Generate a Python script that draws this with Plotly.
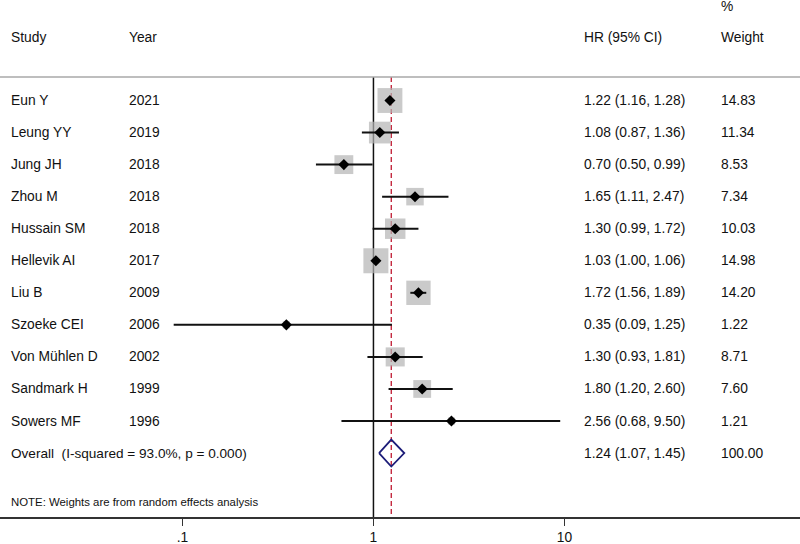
import math
import plotly.graph_objects as go

studies = ["Eun Y", "Leung YY", "Jung JH", "Zhou M", "Hussain SM", "Hellevik AI",
           "Liu B", "Szoeke CEI", "Von Mühlen D", "Sandmark H", "Sowers MF"]
years = ["2021", "2019", "2018", "2018", "2018", "2017", "2009", "2006", "2002", "1999", "1996"]
hr = [1.22, 1.08, 0.70, 1.65, 1.30, 1.03, 1.72, 0.35, 1.30, 1.80, 2.56]
lo = [1.16, 0.87, 0.50, 1.11, 0.99, 1.00, 1.56, 0.09, 0.93, 1.20, 0.68]
hi = [1.28, 1.36, 0.99, 2.47, 1.72, 1.06, 1.89, 1.25, 1.81, 2.60, 9.50]
weights = [14.83, 11.34, 8.53, 7.34, 10.03, 14.98, 14.20, 1.22, 8.71, 7.60, 1.21]

overall_label = "Overall  (I-squared = 93.0%, p = 0.000)"
overall_hr, overall_lo, overall_hi, overall_w = 1.24, 1.07, 1.45, 100.00
note = "NOTE: Weights are from random effects analysis"
tick_vals = [0.1, 1, 10]
tick_text = [".1", "1", "10"]

FONT = "Liberation Sans, Arial, sans-serif"
n = len(studies)
rows = list(range(n))
orow = n

Y_TOP, Y_BOT = -3.136, 12.995
SEP = -0.733

fig = go.Figure()

# dashed overall line
fig.add_trace(go.Scatter(x=[overall_hr, overall_hr], y=[SEP, Y_BOT], mode="lines",
                         line=dict(color="#c42a40", width=1.4, dash="5px,3px"),
                         hoverinfo="skip", showlegend=False))
# null line
fig.add_trace(go.Scatter(x=[1, 1], y=[SEP, Y_BOT], mode="lines",
                         line=dict(color="#111111", width=1.5),
                         hoverinfo="skip", showlegend=False))

# weight boxes
sizes = [25 * math.sqrt(w / 14.98) for w in weights]
fig.add_trace(go.Scatter(x=hr, y=rows, mode="markers",
                         marker=dict(symbol="square", size=sizes, color="#b4b4b4",
                                     line=dict(width=0)),
                         hoverinfo="skip", showlegend=False))
# CI lines
for i in range(n):
    fig.add_trace(go.Scatter(x=[lo[i], hi[i]], y=[i, i], mode="lines",
                             line=dict(color="#111111", width=2),
                             hoverinfo="skip", showlegend=False))
# point estimates
fig.add_trace(go.Scatter(x=hr, y=rows, mode="markers",
                         marker=dict(symbol="diamond", size=8.5, color="#000000"),
                         hoverinfo="skip", showlegend=False))
# overall diamond
h = 0.42
fig.add_trace(go.Scatter(x=[overall_lo, overall_hr, overall_hi, overall_hr, overall_lo],
                         y=[orow, orow - h, orow, orow + h, orow], mode="lines",
                         line=dict(color="#1c1c78", width=1.8),
                         hoverinfo="skip", showlegend=False))

def txt(x, y, s, size=13.8, anchor="left"):
    fig.add_annotation(x=x, y=y, xref="paper", yref="y", text=s, showarrow=False,
                       xanchor=anchor, yanchor="middle", borderpad=0,
                       font=dict(family=FONT, size=size, color="#111111"))

# headers
txt(10 / 800, -1.98, "Study")
txt(128 / 800, -1.98, "Year")
txt(583 / 800, -1.98, "HR (95% CI)")
txt(720 / 800, -1.98, "Weight")
txt(720 / 800, -2.92, "%")

for i in range(n):
    txt(10 / 800, i, studies[i])
    txt(128 / 800, i, years[i])
    txt(583 / 800, i, f"{hr[i]:.2f} ({lo[i]:.2f}, {hi[i]:.2f})")
    txt(720 / 800, i, f"{weights[i]:.2f}")

txt(10 / 800, orow, overall_label, size=13.6)
txt(583 / 800, orow, f"{overall_hr:.2f} ({overall_lo:.2f}, {overall_hi:.2f})")
txt(720 / 800, orow, f"{overall_w:.2f}")
txt(10 / 800, 12.52, note, size=11.4)

# top separator
fig.add_shape(type="line", xref="paper", yref="y", x0=0, x1=1, y0=SEP, y1=SEP,
              line=dict(color="#a8a8a8", width=1.5))

fig.update_layout(
    width=800, height=544,
    margin=dict(l=0, r=0, t=0, b=27),
    paper_bgcolor="white", plot_bgcolor="white",
    xaxis=dict(type="log", range=[-1.955, 2.233], tickvals=tick_vals, ticktext=tick_text,
               showgrid=False, zeroline=False, showline=True, linecolor="#333333",
               linewidth=1.5, ticks="outside", ticklen=7, tickwidth=1.3, tickcolor="#333333",
               tickfont=dict(family=FONT, size=13.8, color="#111111")),
    yaxis=dict(range=[Y_BOT, Y_TOP], visible=False, showgrid=False, zeroline=False),
    showlegend=False,
)

fig.write_html("out.html", config={"displayModeBar": False})
with open("out.html", "r", encoding="utf-8") as f:
    html = f.read()
html = html.replace("<head>", "<head><style>html,body{margin:0;padding:0;overflow:hidden;}</style>", 1)
with open("out.html", "w", encoding="utf-8") as f:
    f.write(html)
